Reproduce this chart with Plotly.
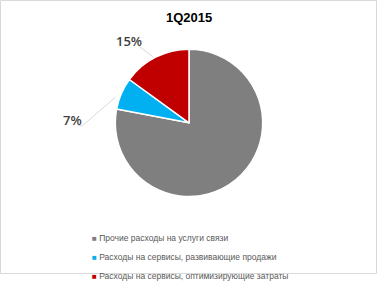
import math
import plotly.graph_objects as go

categories = ["Прочие расходы на услуги связи",
              "Расходы на сервисы, развивающие продажи",
              "Расходы на сервисы, оптимизирующие затраты"]
values = [78, 7, 15]
labels_text = ["", "7%", "15%"]
colors = ["#7f7f7f", "#00b0f0", "#c00000"]
title = "1Q2015"

W, H = 377, 290
cx, cy, R = 189, 130, 78

fig = go.Figure()
fig.add_trace(go.Pie(
    values=values, labels=categories, sort=False, direction="clockwise", rotation=0,
    marker=dict(colors=colors, line=dict(color="white", width=1.5)),
    textinfo="none", hoverinfo="none", showlegend=False,
    domain=dict(x=[(cx - R) / W, (cx + R) / W], y=[(H - cy - R) / H, (H - cy + R) / H]),
))
for c, col in zip(categories, colors):
    name = '<span style="color:%s;font-size:8px">■</span> %s' % (col, c)
    fig.add_trace(go.Scatter(x=[None], y=[None], mode="markers", name=name,
                             marker=dict(symbol="square", size=0.1, color="rgba(0,0,0,0)")))

total = sum(values)
cum = 0
shapes = []
annotations = []
for i, v in enumerate(values):
    mid = (cum + v / 2) / total * 2 * math.pi
    cum += v
    if not labels_text[i]:
        continue
    ex, ey = cx + R * math.sin(mid), cy - R * math.cos(mid)
    if i == 1:
        pts = [(ex - 2, ey + 4), (ex - 35, ey + 34), (ex - 40, ey + 34)]
        tpos = (ex - 45, ey + 28)
    else:
        pts = [(ex, ey), (ex - 14, ey - 11)]
        tpos = (ex - 25, ey - 17)
    for (x0, y0), (x1, y1) in zip(pts[:-1], pts[1:]):
        shapes.append(dict(type="line", xref="paper", yref="paper",
                           x0=x0 / W, y0=1 - y0 / H, x1=x1 / W, y1=1 - y1 / H,
                           line=dict(color="#d9d9d9", width=1)))
    annotations.append(dict(text=labels_text[i], x=tpos[0] / W, y=1 - tpos[1] / H,
                            xref="paper", yref="paper", showarrow=False,
                            xanchor="center", yanchor="middle",
                            font=dict(family="Open Sans", size=13, weight=600, color="#404040")))

annotations.append(dict(text="<b>" + title + "</b>", x=189 / W, y=1 - 18 / H,
                        xref="paper", yref="paper", showarrow=False,
                        xanchor="center", yanchor="middle",
                        font=dict(family="Liberation Sans", size=13, color="#000000")))
shapes.append(dict(type="rect", xref="paper", yref="paper",
                   x0=0.5 / W, x1=1 - 0.5 / W, y0=0.5 / H, y1=1 - 0.5 / H,
                   line=dict(color="#d9d9d9", width=1)))

fig.update_layout(
    width=W, height=H, margin=dict(l=0, r=0, t=0, b=0),
    paper_bgcolor="white", plot_bgcolor="white",
    xaxis=dict(visible=False, domain=[0, 0.01]), yaxis=dict(visible=False, domain=[0, 0.01]),
    shapes=shapes, annotations=annotations,
    legend=dict(x=52 / W, y=1 - 236 / H, xanchor="left", yanchor="top",
                font=dict(family="Liberation Sans", size=8.5, color="#595959"),
                itemwidth=30, tracegroupgap=0, bgcolor="rgba(0,0,0,0)"),
)
fig.write_html("out.html")
